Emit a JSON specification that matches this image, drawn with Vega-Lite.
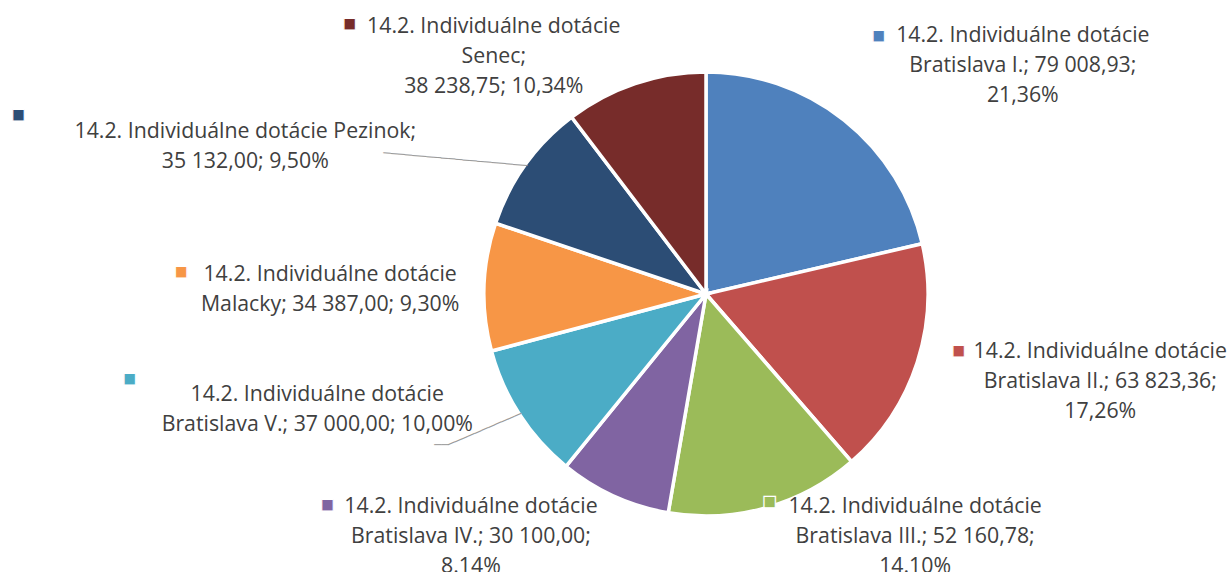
{
  "$schema": "https://vega.github.io/schema/vega-lite/v6.json",
  "width": 1044,
  "height": 556,
  "padding": {"left": 184, "top": 16, "right": 0, "bottom": 0},
  "autosize": {"type": "none"},
  "background": "white",
  "config": {"view": {"stroke": null}},
  "data": {"values": [
    {"i": 1, "name": "Bratislava I.", "value": 79008.93, "label": "14.2. Individuálne dotácie\nBratislava I.; 79 008,93;\n21,36%"},
    {"i": 2, "name": "Bratislava II.", "value": 63823.36, "label": "14.2. Individuálne dotácie\nBratislava II.; 63 823,36;\n17,26%"},
    {"i": 3, "name": "Bratislava III.", "value": 52160.78, "label": "14.2. Individuálne dotácie\nBratislava III.; 52 160,78;\n14.10%"},
    {"i": 4, "name": "Bratislava IV.", "value": 30100.00, "label": "14.2. Individuálne dotácie\nBratislava IV.; 30 100,00;\n8.14%"},
    {"i": 5, "name": "Bratislava V.", "value": 37000.00, "label": "14.2. Individuálne dotácie\nBratislava V.; 37 000,00; 10,00%"},
    {"i": 6, "name": "Malacky", "value": 34387.00, "label": "14.2. Individuálne dotácie\nMalacky; 34 387,00; 9,30%"},
    {"i": 7, "name": "Pezinok", "value": 35132.00, "label": "14.2. Individuálne dotácie Pezinok;\n35 132,00; 9,50%"},
    {"i": 8, "name": "Senec", "value": 38238.75, "label": "14.2. Individuálne dotácie\nSenec;\n38 238,75; 10,34%"}
  ]},
  "encoding": {
    "theta": {"field": "value", "type": "quantitative", "stack": true},
    "order": {"field": "i", "type": "quantitative"}
  },
  "layer": [
    {"mark": {"type": "arc", "outerRadius": 222, "stroke": "white", "strokeWidth": 3.5},
     "encoding": {"color": {"field": "name", "type": "nominal", "legend": null,
       "scale": {"domain": ["Bratislava I.", "Bratislava II.", "Bratislava III.", "Bratislava IV.", "Bratislava V.", "Malacky", "Pezinok", "Senec"],
                 "range": ["#4F81BD", "#C0504D", "#9BBB59", "#8064A2", "#4BACC6", "#F79646", "#2C4D75", "#772C2A"]}}}},

    {"mark": {"type": "text", "radius": 220, "align": "right", "baseline": "middle", "angle": 5.1, "font": "DejaVu Sans Mono", "fontSize": 12, "color": "#9A9A9A"},
     "encoding": {"text": {"condition": {"test": "datum.i === 7", "value": "────────────────────"}, "value": ""}}},
    {"mark": {"type": "text", "radius": 220, "align": "right", "baseline": "middle", "angle": -23.3, "font": "DejaVu Sans Mono", "fontSize": 12, "color": "#9A9A9A"},
     "encoding": {"text": {"condition": {"test": "datum.i === 5", "value": "───────────"}, "value": ""}}},
    {"mark": {"type": "text", "radius": 220, "dx": -79.8, "dy": 31.5, "align": "center", "baseline": "middle", "font": "DejaVu Sans Mono", "fontSize": 12, "color": "#9A9A9A"},
     "encoding": {"text": {"condition": {"test": "datum.i === 5", "value": "──"}, "value": ""}}},

    {"mark": {"type": "text", "radius": 220, "dx": 180, "dy": -80, "align": "center", "baseline": "alphabetic", "lineBreak": "\n", "lineHeight": 30, "font": "Open Sans", "fontSize": 21.3, "color": "#404040"},
     "encoding": {"text": {"condition": {"test": "datum.i === 1", "field": "label", "type": "nominal"}, "value": ""}}},
    {"mark": {"type": "text", "radius": 220, "dx": 185, "dy": -4, "align": "center", "baseline": "alphabetic", "lineBreak": "\n", "lineHeight": 30, "font": "Open Sans", "fontSize": 21.3, "color": "#404040"},
     "encoding": {"text": {"condition": {"test": "datum.i === 2", "field": "label", "type": "nominal"}, "value": ""}}},
    {"mark": {"type": "text", "radius": 220, "dx": 150, "dy": 7, "align": "center", "baseline": "alphabetic", "lineBreak": "\n", "lineHeight": 30, "font": "Open Sans", "fontSize": 21.3, "color": "#404040"},
     "encoding": {"text": {"condition": {"test": "datum.i === 3", "field": "label", "type": "nominal"}, "value": ""}}},
    {"mark": {"type": "text", "radius": 220, "dx": -144, "dy": 19, "align": "center", "baseline": "alphabetic", "lineBreak": "\n", "lineHeight": 30, "font": "Open Sans", "fontSize": 21.3, "color": "#404040"},
     "encoding": {"text": {"condition": {"test": "datum.i === 4", "field": "label", "type": "nominal"}, "value": ""}}},
    {"mark": {"type": "text", "radius": 220, "dx": -204, "dy": -12.5, "align": "center", "baseline": "alphabetic", "lineBreak": "\n", "lineHeight": 30, "font": "Open Sans", "fontSize": 21.3, "color": "#404040"},
     "encoding": {"text": {"condition": {"test": "datum.i === 5", "field": "label", "type": "nominal"}, "value": ""}}},
    {"mark": {"type": "text", "radius": 220, "dx": -156, "dy": -6, "align": "center", "baseline": "alphabetic", "lineBreak": "\n", "lineHeight": 30, "font": "Open Sans", "fontSize": 21.3, "color": "#404040"},
     "encoding": {"text": {"condition": {"test": "datum.i === 6", "field": "label", "type": "nominal"}, "value": ""}}},
    {"mark": {"type": "text", "radius": 220, "dx": -282, "dy": -27.6, "align": "center", "baseline": "alphabetic", "lineBreak": "\n", "lineHeight": 30, "font": "Open Sans", "fontSize": 21.3, "color": "#404040"},
     "encoding": {"text": {"condition": {"test": "datum.i === 7", "field": "label", "type": "nominal"}, "value": ""}}},
    {"mark": {"type": "text", "radius": 220, "dx": -142, "dy": -53, "align": "center", "baseline": "alphabetic", "lineBreak": "\n", "lineHeight": 30, "font": "Open Sans", "fontSize": 21.3, "color": "#404040"},
     "encoding": {"text": {"condition": {"test": "datum.i === 8", "field": "label", "type": "nominal"}, "value": ""}}},

    {"mark": {"type": "text", "radius": 220, "dx": 35.7, "dy": -86.7, "align": "center", "baseline": "middle", "font": "DejaVu Sans", "fontSize": 15, "stroke": "white", "strokeWidth": 1},
     "encoding": {"color": {"field": "name", "type": "nominal", "legend": null}, "text": {"condition": {"test": "datum.i === 1", "value": "■"}, "value": ""}}},
    {"mark": {"type": "text", "radius": 220, "dx": 43.2, "dy": -12.3, "align": "center", "baseline": "middle", "font": "DejaVu Sans", "fontSize": 15, "stroke": "white", "strokeWidth": 1},
     "encoding": {"color": {"field": "name", "type": "nominal", "legend": null}, "text": {"condition": {"test": "datum.i === 2", "value": "■"}, "value": ""}}},
    {"mark": {"type": "text", "radius": 220, "dx": 4.5, "dy": -4.9, "align": "center", "baseline": "middle", "font": "DejaVu Sans", "fontSize": 15, "stroke": "white", "strokeWidth": 1.2},
     "encoding": {"color": {"field": "name", "type": "nominal", "legend": null}, "text": {"condition": {"test": "datum.i === 3", "value": "■"}, "value": ""}}},
    {"mark": {"type": "text", "radius": 220, "dx": -287.6, "dy": 10, "align": "center", "baseline": "middle", "font": "DejaVu Sans", "fontSize": 15, "stroke": "white", "strokeWidth": 1},
     "encoding": {"color": {"field": "name", "type": "nominal", "legend": null}, "text": {"condition": {"test": "datum.i === 4", "value": "■"}, "value": ""}}},
    {"mark": {"type": "text", "radius": 220, "dx": -391.8, "dy": -35, "align": "center", "baseline": "middle", "font": "DejaVu Sans", "fontSize": 15, "stroke": "white", "strokeWidth": 1},
     "encoding": {"color": {"field": "name", "type": "nominal", "legend": null}, "text": {"condition": {"test": "datum.i === 5", "value": "■"}, "value": ""}}},
    {"mark": {"type": "text", "radius": 220, "dx": -305.1, "dy": -15.6, "align": "center", "baseline": "middle", "font": "DejaVu Sans", "fontSize": 15, "stroke": "white", "strokeWidth": 1},
     "encoding": {"color": {"field": "name", "type": "nominal", "legend": null}, "text": {"condition": {"test": "datum.i === 6", "value": "■"}, "value": ""}}},
    {"mark": {"type": "text", "radius": 220, "dx": -509, "dy": -51.6, "align": "center", "baseline": "middle", "font": "DejaVu Sans", "fontSize": 15, "stroke": "white", "strokeWidth": 1},
     "encoding": {"color": {"field": "name", "type": "nominal", "legend": null}, "text": {"condition": {"test": "datum.i === 7", "value": "■"}, "value": ""}}},
    {"mark": {"type": "text", "radius": 220, "dx": -286.3, "dy": -62.2, "align": "center", "baseline": "middle", "font": "DejaVu Sans", "fontSize": 15, "stroke": "white", "strokeWidth": 1},
     "encoding": {"color": {"field": "name", "type": "nominal", "legend": null}, "text": {"condition": {"test": "datum.i === 8", "value": "■"}, "value": ""}}}
  ]
}
